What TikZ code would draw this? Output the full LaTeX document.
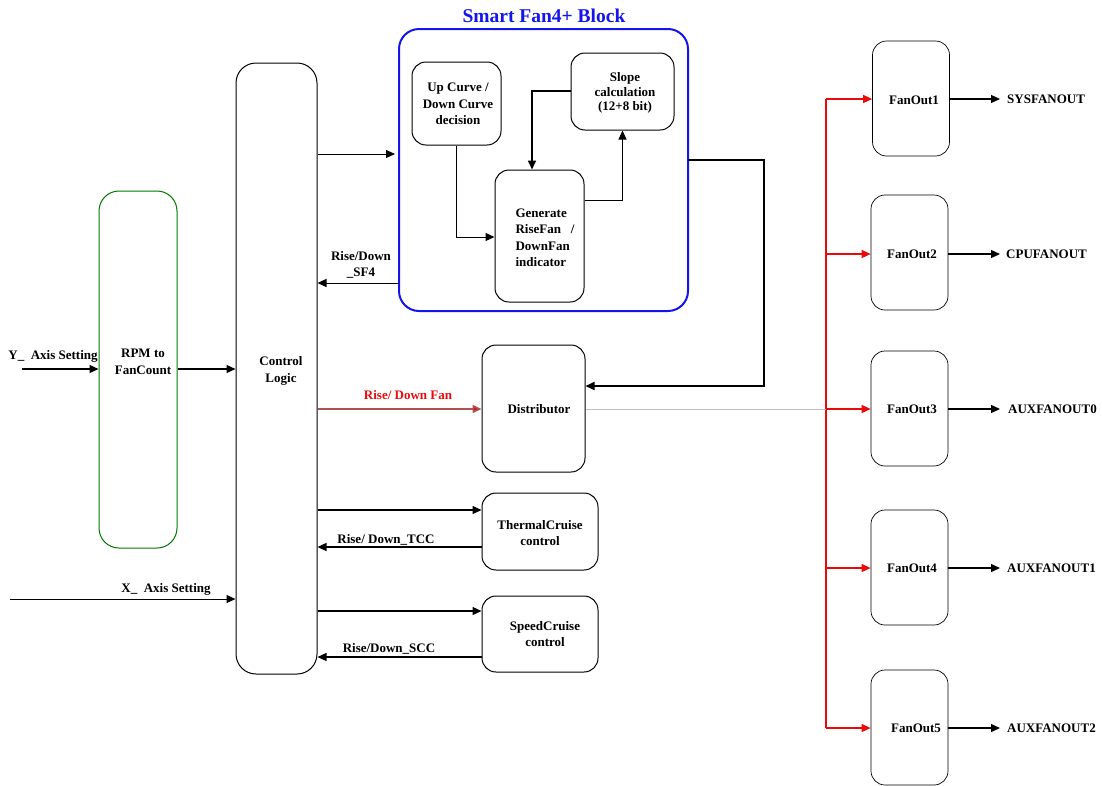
\documentclass[tikz,border=0pt]{standalone}
\usepackage{fontspec}
\setmainfont{Liberation Serif}
\usetikzlibrary{arrows.meta,calc}
\definecolor{sfblue}{RGB}{20,20,235}
\definecolor{rpmgreen}{RGB}{0,120,0}
\definecolor{sigred}{RGB}{235,10,10}
\tikzset{
  blk/.style={draw=black, line width=1pt, rounded corners=14pt, inner sep=0pt},
  lbl/.style={font=\fontsize{13}{16.5}\selectfont\bfseries, align=center, inner sep=0pt},
  arr/.style={line width=1.2pt, -{Triangle[length=9pt,width=8pt]}},
  redarr/.style={draw=sigred, line width=1.4pt, -{Triangle[length=9pt,width=8pt,fill=sigred]}},
}
\begin{document}
\begin{tikzpicture}[x=1pt,y=-1pt]
\useasboundingbox (0,0) rectangle (1102,785);
% title
\node[font=\fontsize{19.5}{22}\selectfont\bfseries, text=sfblue] (title) at (544,16) {Smart Fan4+ Block};
% Smart Fan block
\draw[sfblue, line width=2pt, rounded corners=20pt] (399,29) rectangle (688,311);
\coordinate (sfL1) at (399,154);
\coordinate (sfL2) at (399,283);
\coordinate (sfR) at (688,160);
% inner boxes
\node[blk, minimum width=89pt, minimum height=83pt] (up) at (456.5,103.5) {};
\node[lbl] at (458,104) {Up Curve /\\Down Curve\\decision};
\node[blk, minimum width=103pt, minimum height=77pt] (slope) at (622.5,91.5) {};
\node[lbl, font=\fontsize{13}{14.5}\selectfont\bfseries] at (625,93) {Slope\\calculation\\(12+8 bit)};
\node[blk, minimum width=89pt, minimum height=132pt] (gen) at (539.5,236) {};
\node[lbl, align=left] at (545,238) {Generate\\RiseFan \ \ /\\DownFan\\indicator};
% inner connectors
\draw[arr, line width=1pt] (up.south) |- (gen.west |- 0,237);
\draw[arr, line width=1pt] (gen.east |- 0,200) -| (slope.south);
\draw[arr, line width=1.6pt] (slope.west |- 0,91) -| (gen.north -| 532,0);
% Control Logic
\node[blk, rounded corners=20pt, minimum width=81pt, minimum height=611pt] (ctl) at (276.5,368.5) {};
\node[lbl] at (281,371) {Control\\Logic};
% RPM
\node[blk, draw=rpmgreen, rounded corners=20pt, minimum width=78pt, minimum height=357pt] (rpm) at (138,369.5) {};
\node[lbl] at (143,362) {RPM to\\FanCount};
% Distributor etc
\node[blk, minimum width=103pt, minimum height=127pt] (dist) at (533.5,408.5) {};
\node[lbl] at (539,409) {Distributor};
\node[blk, minimum width=116pt, minimum height=77pt] (tcc) at (540,531.5) {};
\node[lbl] at (540,533) {ThermalCruise\\control};
\node[blk, minimum width=116pt, minimum height=76pt] (scc) at (540,634) {};
\node[lbl] at (545,634) {SpeedCruise\\control};
% FanOuts
\tikzset{fo/.style={blk, line width=0.7pt, minimum width=77pt, minimum height=115pt}}
\node[fo] (f1) at (911,98.5) {};
\node[fo] (f2) at (909.5,252.5) {};
\node[fo] (f3) at (909.5,408.5) {};
\node[fo] (f4) at (909.5,567.5) {};
\node[fo] (f5) at (909.5,727.5) {};
\node[lbl] at (914,100) {FanOut1};
\node[lbl] at (912,254) {FanOut2};
\node[lbl] at (912,409) {FanOut3};
\node[lbl] at (912,568) {FanOut4};
\node[lbl] at (916,728) {FanOut5};
% outputs
\coordinate (o1) at (1000,99);
\coordinate (o2) at (1000,254);
\coordinate (o3) at (1000,409);
\coordinate (o4) at (1000,568);
\coordinate (o5) at (1000,728);
\draw[arr] (f1.east |- o1) -- (o1);
\draw[arr] (f2.east |- o2) -- (o2);
\draw[arr] (f3.east |- o3) -- (o3);
\draw[arr] (f4.east |- o4) -- (o4);
\draw[arr] (f5.east |- o5) -- (o5);
\node[lbl, anchor=west] at (1007,99) {SYSFANOUT};
\node[lbl, anchor=west] at (1006,254) {CPUFANOUT};
\node[lbl, anchor=west] at (1008,409) {AUXFANOUT0};
\node[lbl, anchor=west] at (1007,568) {AUXFANOUT1};
\node[lbl, anchor=west] at (1007,728) {AUXFANOUT2};
% red bus
\coordinate (bt) at (826,99);
\coordinate (bb) at (826,728);
\draw[sigred, line width=1.4pt] (bt) -- (bb);
\draw[redarr] (bt) -- (f1.west |- o1);
\draw[redarr] (826,254) -- (f2.west |- o2);
\draw[redarr] (826,568) -- (f4.west |- o4);
\draw[redarr] (bb) -- (f5.west |- o5);
% distributor -> FanOut3 (gray)
\draw[gray!50, line width=1pt] (dist.east |- o3) -- (862,409);
\draw[redarr] (826,409) -- (f3.west |- o3);
% left inputs
\coordinate (yin) at (22,369);
\coordinate (xin) at (10,599);
\draw[arr] (yin) -- (rpm.west |- yin);
\node[lbl] at (53,356) {Y\_ \ Axis Setting};
\draw[arr] (rpm.east |- yin) -- (ctl.west |- yin);
\draw[arr, line width=1pt] (xin) -- (ctl.west |- xin);
\node[lbl] at (166,589) {X\_ \ Axis Setting};
% control <-> smart fan
\draw[arr, line width=1pt] (ctl.east |- sfL1) -- ($(sfL1)+(-4,0)$);
\draw[arr, line width=1pt] (sfL2) -- (ctl.east |- sfL2);
\node[lbl] at (361,265) {Rise/Down\\\_SF4};
% control -> distributor red
\draw[line width=1.6pt, draw=sigred!60!black!70, -{Triangle[length=9pt,width=8pt,fill=sigred]}] (ctl.east |- 0,409) -- (dist.west |- 0,409);
\node[lbl, text=sigred] at (408,395) {Rise/ Down Fan};
% smart fan -> distributor
\draw[arr, line width=1.8pt] (sfR) -| (764,386) -- (dist.east |- 0,386);
% TCC
\draw[arr] (ctl.east |- 0,510) -- (tcc.west |- 0,510);
\draw[arr] (tcc.west |- 0,547) -- (ctl.east |- 0,547);
\node[lbl] at (386,540) {Rise/ Down\_TCC};
% SCC
\draw[arr] (ctl.east |- 0,611) -- (scc.west |- 0,611);
\draw[arr] (scc.west |- 0,657) -- (ctl.east |- 0,657);
\node[lbl] at (389,649) {Rise/Down\_SCC};
\end{tikzpicture}
\end{document}
